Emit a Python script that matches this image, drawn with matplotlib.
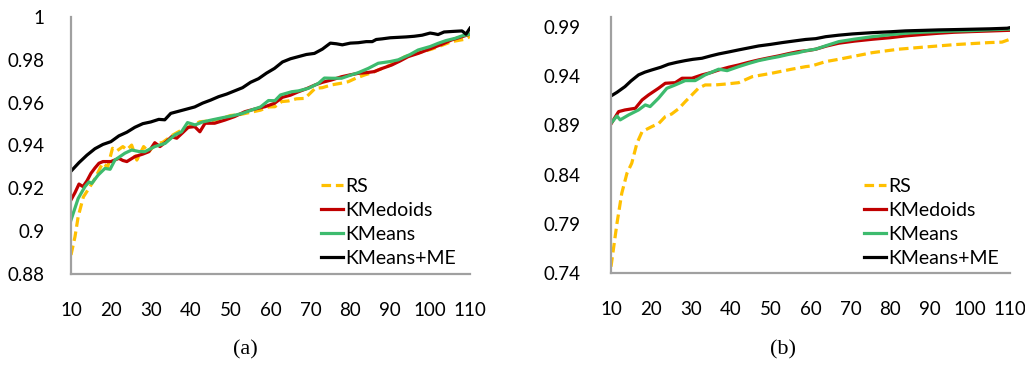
import matplotlib
matplotlib.use("Agg")
import matplotlib.pyplot as plt
from matplotlib.ticker import FixedLocator

# ---------------- data: panel (a) ----------------
a_me_x = [10, 12, 14, 16, 18, 20, 22, 24, 26, 28, 30, 32, 33.5, 35, 37, 39, 41, 43, 45, 47, 49, 51, 53, 55, 57,
          59, 61, 63, 65, 67, 69, 71, 73, 75, 76.5, 78, 80, 82, 84, 85.5, 86.5, 88, 90, 92, 94, 96, 98, 100,
          101, 102, 103.5, 106, 108, 109, 110]
a_me_y = [0.928, 0.932, 0.9355, 0.9385, 0.9405, 0.9418, 0.9445, 0.9462, 0.9485, 0.9502, 0.951, 0.9522, 0.952,
          0.955, 0.956, 0.957, 0.958, 0.9598, 0.9612, 0.9628, 0.964, 0.9655, 0.967, 0.9695, 0.9712, 0.9738,
          0.976, 0.979, 0.9805, 0.9815, 0.9825, 0.983, 0.985, 0.9878, 0.9875, 0.987, 0.9878, 0.988, 0.9885,
          0.9885, 0.9895, 0.9898, 0.9903, 0.9905, 0.9907, 0.991, 0.9915, 0.9925, 0.9922, 0.9918, 0.993,
          0.9933, 0.9935, 0.992, 0.9948]

a_kmed_x = [10, 11, 12, 13, 14, 15, 16, 17, 18, 20, 22, 23, 24, 26, 28, 29.5, 31, 32.3, 34, 35.2, 36.5, 38,
            39.4, 41, 42.3, 43.6, 46, 48.6, 51, 53.6, 56, 58.6, 61, 63, 65, 67, 69, 71.2, 73, 75.3, 77.8, 80,
            82, 84, 86, 88, 90.4, 92.5, 94.5, 97, 100.4, 103, 105.4, 108, 110]
a_kmed_y = [0.9146, 0.918, 0.922, 0.9208, 0.9235, 0.927, 0.9295, 0.9317, 0.9325, 0.9325, 0.934, 0.933,
            0.9325, 0.9348, 0.936, 0.9371, 0.9413, 0.9395, 0.942, 0.9441, 0.9434, 0.946, 0.9485, 0.9488,
            0.9464, 0.9504, 0.9504, 0.9519, 0.9535, 0.9558, 0.957, 0.9581, 0.9597, 0.9625, 0.9635, 0.9651,
            0.9665, 0.9683, 0.9695, 0.9706, 0.9721, 0.973, 0.9737, 0.974, 0.9745, 0.976, 0.9776, 0.9795,
            0.9815, 0.983, 0.9854, 0.9873, 0.9893, 0.9908, 0.992]

a_km_x = [10, 11.8, 13.5, 14.5, 15.2, 16.8, 18.5, 19.8, 21, 23.5, 25.2, 27, 28.5, 31, 33.6, 36, 37.7, 39.2,
          41.1, 43, 45.2, 48, 50.3, 53, 55.3, 57.5, 59.5, 61.1, 62.5, 65.3, 67, 69.5, 72, 73.5, 75.3, 77.8,
          80, 82, 84.5, 87, 90, 92, 95, 97, 100, 102, 104, 106.2, 108, 110]
a_km_y = [0.9052, 0.9153, 0.9208, 0.923, 0.9223, 0.9262, 0.9293, 0.9289, 0.9332, 0.9364, 0.9379, 0.9372,
          0.9371, 0.9395, 0.941, 0.9449, 0.9464, 0.9507, 0.9496, 0.951, 0.9519, 0.953, 0.9538, 0.955, 0.9566,
          0.958, 0.961, 0.9609, 0.9636, 0.9651, 0.9655, 0.9667, 0.969, 0.9715, 0.9714, 0.9714, 0.9728, 0.974,
          0.976, 0.9784, 0.9792, 0.98, 0.9825, 0.9846, 0.9862, 0.9877, 0.989, 0.99, 0.9912, 0.992]

a_rs_x = [10, 11, 11.8, 13.1, 14.5, 16, 17.9, 19.2, 20.4, 21.5, 23, 24, 25.2, 26.5, 28.2, 29.5, 31, 33, 35.6,
          38, 40, 42.3, 45, 47.5, 50, 52.5, 55, 57.5, 59.5, 61.1, 62.8, 64.5, 66.5, 68.6, 70, 71.2, 73, 75.3,
          77.5, 79.5, 81.5, 83.7, 85.5, 87, 90, 93.7, 97, 100.4, 103, 105.4, 108.7, 110]
a_rs_y = [0.8889, 0.8974, 0.9068, 0.916, 0.92, 0.9245, 0.9317, 0.93, 0.9387, 0.9375, 0.9395, 0.938, 0.9402,
          0.9332, 0.9395, 0.937, 0.9405, 0.9415, 0.945, 0.9475, 0.949, 0.9511, 0.9515, 0.9525, 0.954, 0.9545,
          0.9555, 0.9565, 0.958, 0.9581, 0.9605, 0.9608, 0.9618, 0.962, 0.9645, 0.9667, 0.967, 0.9683, 0.969,
          0.9698, 0.9715, 0.973, 0.974, 0.9753, 0.9775, 0.9815, 0.9832, 0.985, 0.9868, 0.9885, 0.9896, 0.9909]

# ---------------- data: panel (b) ----------------
b_me_x = [10, 11.5, 13.5, 15, 16.9, 18.5, 20.2, 22.5, 24.4, 26.5, 28.6, 30.5, 32.8, 35, 37, 39.5, 42, 44.5,
          47, 50, 52.9, 56, 58.8, 61.3, 63.8, 67, 70.5, 75.5, 80, 83.8, 88, 92.1, 96, 100.5, 105, 109.3, 110]
b_me_y = [0.9198, 0.9235, 0.9293, 0.935, 0.9412, 0.944, 0.9462, 0.949, 0.952, 0.954, 0.9557, 0.957, 0.9581,
          0.9605, 0.9625, 0.9645, 0.9666, 0.9686, 0.9706, 0.9722, 0.974, 0.9757, 0.9772, 0.978, 0.98, 0.9815,
          0.9828, 0.9841, 0.985, 0.9859, 0.9864, 0.9869, 0.9872, 0.9876, 0.988, 0.9886, 0.9892]

b_kmed_x = [10, 11.9, 13.5, 16.1, 17.8, 19.4, 21.9, 23.6, 26.1, 27.8, 30.3, 32.8, 35, 37, 39.5, 42, 44.5, 47,
            49.5, 52, 54.5, 57, 59.5, 61.3, 64, 67.1, 71, 75.5, 80, 83.8, 88, 92.1, 96, 100.5, 105, 110]
b_kmed_y = [0.8914, 0.9039, 0.9056, 0.9073, 0.9158, 0.9208, 0.9276, 0.9327, 0.9333, 0.9378, 0.9378, 0.9412,
            0.9435, 0.9462, 0.949, 0.9513, 0.954, 0.9564, 0.9585, 0.9605, 0.9628, 0.9649, 0.966, 0.9673,
            0.9705, 0.9734, 0.9755, 0.9774, 0.979, 0.9808, 0.9822, 0.9835, 0.9845, 0.9852, 0.9858, 0.9865]

b_km_x = [10, 11.5, 12.3, 14.4, 16.9, 18.6, 19.8, 21.9, 24, 26.1, 28.6, 31.1, 33.6, 37, 39.1, 42, 44.5, 47,
          49.5, 52, 54.5, 57, 59, 61.3, 64, 67.1, 71, 75.5, 80, 83.8, 88, 92.1, 96, 100.5, 105, 110]
b_km_y = [0.8921, 0.8995, 0.8955, 0.9005, 0.9056, 0.9107, 0.909, 0.9175, 0.9276, 0.931, 0.9354, 0.9354,
          0.9412, 0.947, 0.9455, 0.9496, 0.9528, 0.9557, 0.9578, 0.9597, 0.962, 0.9638, 0.9659, 0.9673,
          0.971, 0.975, 0.9775, 0.98, 0.982, 0.9835, 0.9845, 0.9852, 0.9858, 0.9862, 0.987, 0.9878]

b_rs_x = [10, 11.5, 12.7, 14, 15.2, 16.5, 17.8, 20.2, 22, 23.6, 25.2, 27, 28.6, 30.3, 31.9, 33.6, 36.1, 39,
          42, 45.4, 50.3, 55.3, 58.8, 60.3, 63.8, 67, 70.5, 75.5, 82.1, 88, 96.3, 104.7, 108, 110]
b_rs_y = [0.7464, 0.7905, 0.821, 0.8413, 0.8515, 0.8718, 0.8836, 0.8886, 0.892, 0.8988, 0.9015, 0.907, 0.914,
          0.921, 0.9276, 0.931, 0.931, 0.932, 0.9333, 0.9394, 0.9429, 0.947, 0.9496, 0.9503, 0.9547, 0.957,
          0.9598, 0.9638, 0.9673, 0.9693, 0.972, 0.974, 0.9745, 0.9774]

x_ticks = [10, 20, 30, 40, 50, 60, 70, 80, 90, 100, 110]
a_yticks = [0.88, 0.9, 0.92, 0.94, 0.96, 0.98, 1.0]
a_ylabels = ["0.88", "0.9", "0.92", "0.94", "0.96", "0.98", "1"]
b_yticks = [0.74, 0.79, 0.84, 0.89, 0.94, 0.99]
b_ylabels = ["0.74", "0.79", "0.84", "0.89", "0.94", "0.99"]
series_names = ["RS", "KMedoids", "KMeans", "KMeans+ME"]
captions = ["(a)", "(b)"]

# ---------------- styling ----------------
plt.rcParams['font.family'] = ['Lato', 'DejaVu Sans']
C_RS, C_KMED, C_KM, C_ME = "#FFC000", "#C00000", "#3DBB6E", "#000000"
LW = 2.3
SPINE = "#A0A0A0"
FS = 13.5

fig = plt.figure(figsize=(10.25, 3.65), dpi=100)
ax1 = fig.add_axes([71 / 1025, 1 - 274 / 365, 399 / 1025, 257 / 365])
ax2 = fig.add_axes([611 / 1025, 1 - 273 / 365, 399 / 1025, 256 / 365])


def draw(ax, rs, kmed, km, me, ylim, yt, yl, pad_y):
    ax.plot(rs[0], rs[1], color=C_RS, lw=LW, dashes=(3.0, 1.5), label=series_names[0])
    ax.plot(kmed[0], kmed[1], color=C_KMED, lw=LW, label=series_names[1])
    ax.plot(km[0], km[1], color=C_KM, lw=LW, label=series_names[2])
    ax.plot(me[0], me[1], color=C_ME, lw=LW, label=series_names[3])
    ax.set_xlim(10, 110)
    ax.set_ylim(*ylim)
    ax.xaxis.set_major_locator(FixedLocator(x_ticks))
    ax.set_xticklabels([str(t) for t in x_ticks])
    ax.set_yticks(yt)
    ax.set_yticklabels(yl)
    for s in ("top", "right"):
        ax.spines[s].set_visible(False)
    for s in ("left", "bottom"):
        ax.spines[s].set_color(SPINE)
        ax.spines[s].set_linewidth(1.6)
    ax.tick_params(axis="both", length=0, labelsize=FS, colors="black")
    ax.tick_params(axis="x", pad=20)
    ax.tick_params(axis="y", pad=pad_y)


draw(ax1, (a_rs_x, a_rs_y), (a_kmed_x, a_kmed_y), (a_km_x, a_km_y), (a_me_x, a_me_y),
     (0.88, 1.0), a_yticks, a_ylabels, 19)
draw(ax2, (b_rs_x, b_rs_y), (b_kmed_x, b_kmed_y), (b_km_x, b_km_y), (b_me_x, b_me_y),
     (0.74, 1.0), b_yticks, b_ylabels, 22)

for ax, lx in ((ax1, 321 / 1025), (ax2, 864 / 1025)):
    ax.legend(loc="lower left", bbox_to_anchor=(lx, 1 - 267 / 365), bbox_transform=fig.transFigure,
              frameon=False, fontsize=14, handlelength=1.15, handletextpad=0.1, labelspacing=0.36,
              borderpad=0, borderaxespad=0)

fig.text(245 / 1025, 1 - 350 / 365, captions[0], ha="center", va="center",
         fontsize=16, family=["Liberation Serif", "DejaVu Serif"])
fig.text(783 / 1025, 1 - 350 / 365, captions[1], ha="center", va="center",
         fontsize=16, family=["Liberation Serif", "DejaVu Serif"])

fig.savefig("out.png", dpi=100, facecolor="white")
